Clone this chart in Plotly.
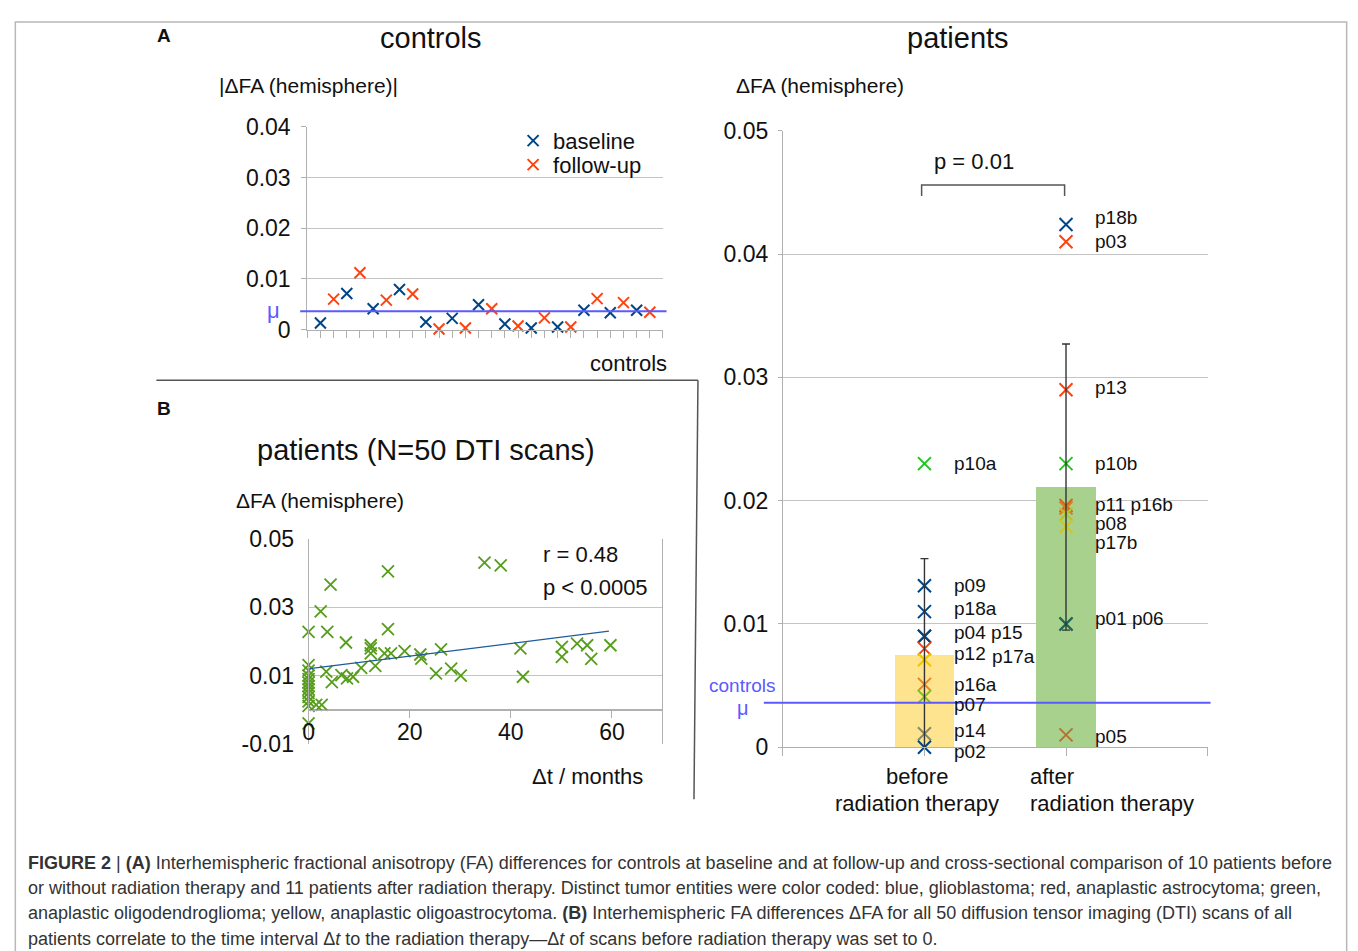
import plotly.graph_objects as go

# Figure size and the measured placement of the figure inside the photographed page
PW, PH = 1340, 953
OX, OY = 12.5, 20.5
SX, SY = 0.9963, 0.9704
FONT = "Liberation Sans"

def px(x):
    return (x - OX) / (PW * SX)

def py(y):
    return 1 - (y - OY) / (PH * SY)

# ---------------- data: controls ----------------
ctrl_baseline_pos = [1, 3, 5, 7, 9, 11, 13, 15, 17, 19, 21, 23, 25]
ctrl_baseline_val = [0.0013, 0.0071, 0.0041, 0.0079, 0.0015, 0.0022, 0.0049,
                     0.0011, 0.0003, 0.0005, 0.0038, 0.0033, 0.0038]
ctrl_followup_pos = [2, 4, 6, 8, 10, 12, 14, 16, 18, 20, 22, 24, 26]
ctrl_followup_val = [0.0060, 0.0112, 0.0058, 0.0070, 0.0001, 0.0003, 0.0041,
                     0.0007, 0.0023, 0.0005, 0.0061, 0.0053, 0.0034]
controls_mu = 0.0036

# ---------------- data: patients ----------------
group_pos = [1, 2]
group_mean = [0.0075, 0.0211]
group_err = [0.0078, 0.0116]
group_bar_colors = ["#ffe48f", "#a9d18e"]

pat_names = ["p09", "p18a", "p04", "p15", "p12", "p17a", "p16a", "p07", "p14", "p02", "p10a",
             "p18b", "p03", "p13", "p10b", "p11", "p16b", "p08", "p17b", "p01", "p06", "p05"]
pat_group = [1, 1, 1, 1, 1, 1, 1, 1, 1, 1, 1,
             2, 2, 2, 2, 2, 2, 2, 2, 2, 2, 2]
pat_val = [0.0131, 0.0110, 0.0090, 0.0090, 0.0080, 0.0071, 0.0051, 0.0041, 0.0011, 0.0000, 0.0230,
           0.0424, 0.0410, 0.0290, 0.0230, 0.0196, 0.0194, 0.0189, 0.0179, 0.0100, 0.0100, 0.0010]
pat_color = ["#004586", "#004586", "#004586", "#004586", "#ff420e", "#f2c500", "#f07f1f",
             "#7fc81a", "#8a8a62", "#004586", "#22c422",
             "#004586", "#ff420e", "#ff420e", "#22c422", "#d0661e", "#e07a1a", "#b5c22a",
             "#d6c41a", "#1f6a55", "#1f6a55", "#b8722e"]

label_text = ["p09", "p18a", "p04 p15", "p12", "p17a", "p16a", "p07", "p14", "p02", "p10a",
              "p18b", "p03", "p13", "p10b", "p11 p16b", "p08", "p17b", "p01 p06", "p05"]
label_group = [1, 1, 1, 1, 1, 1, 1, 1, 1, 1,
               2, 2, 2, 2, 2, 2, 2, 2, 2]
label_y = [0.01309, 0.01122, 0.00927, 0.00764, 0.00732, 0.00512, 0.0035, 0.00135, 0.0, 0.0230,
           0.04293, 0.04098, 0.02919, 0.0230, 0.01965, 0.01813, 0.01659, 0.01041, 0.00089]
label_dy = [0, 0, 0, 0, 0, 0, 0, 0, -4, 0,
            0, 0, 0, 0, 0, 0, 0, 0, 0]
label_shift = [28, 28, 28, 28, 66, 28, 28, 28, 28, 28,
               27, 27, 27, 27, 27, 27, 27, 27, 27]

p_bracket_height = 0.0456
p_bracket_drop = 0.0009

# ---------------- data: patients scatter (B) ----------------
dt_months = [0, 0, 0, 0, 0, 0, 0, 0, 0, 0, 0, 0, 0, 1.5, 2.6,
             2.4, 4.35, 3.7, 3.5, 4.6, 6.5, 7.4, 7.6, 8.8, 10.4, 12.3, 12.3, 12.3, 13.2,
             15.0, 15.7, 15.7, 16.3, 19.0, 22.1, 22.3, 25.2, 26.2, 28.2, 30.1, 34.8, 38.0,
             41.9, 42.4, 50.1, 50.1, 53.1, 55.1, 55.9, 59.7]
dfa_scan = [0.0228, 0.0131, 0.0115, 0.0100, 0.0090, 0.0080, 0.0070, 0.0060, 0.0050,
            0.0038, 0.0025, 0.0012, -0.0039, 0.0015, 0.0015,
            0.0288, 0.0366, 0.0228, 0.0112, 0.0081, 0.0102, 0.0197, 0.0092, 0.0097, 0.0123,
            0.0189, 0.0180, 0.0165, 0.0129, 0.0165, 0.0405, 0.0236, 0.0165, 0.0172, 0.0162,
            0.0150, 0.0107, 0.0177, 0.0121, 0.0100, 0.0430, 0.0422, 0.0180, 0.0097, 0.0184,
            0.0155, 0.0194, 0.0189, 0.0149, 0.0189]
trend_x = [0.2, 59.4]
trend_y = [0.0121, 0.0230]

GRID = "#c4c4c4"
AXL = "#b0b0b0"

fig = go.Figure()

# controls
fig.add_trace(go.Scatter(x=ctrl_baseline_pos, y=ctrl_baseline_val, mode="markers", name="baseline",
                         marker=dict(symbol="x-thin", size=11, line=dict(width=2, color="#004586")),
                         xaxis="x", yaxis="y", legend="legend", cliponaxis=False))
fig.add_trace(go.Scatter(x=ctrl_followup_pos, y=ctrl_followup_val, mode="markers", name="follow-up",
                         marker=dict(symbol="x-thin", size=11, line=dict(width=2, color="#ff420e")),
                         xaxis="x", yaxis="y", legend="legend2", cliponaxis=False))

# patients bars
fig.add_trace(go.Bar(x=group_pos, y=group_mean, width=0.42, marker=dict(color=group_bar_colors, line=dict(width=0)),
                     xaxis="x2", yaxis="y2", showlegend=False))
fig.add_trace(go.Scatter(x=pat_group, y=pat_val, mode="markers",
                         marker=dict(symbol="x-thin", size=13, line=dict(width=2, color=pat_color)),
                         xaxis="x2", yaxis="y2", showlegend=False, cliponaxis=False))
fig.add_trace(go.Scatter(x=group_pos, y=group_mean, mode="markers",
                         marker=dict(size=1, opacity=0),
                         error_y=dict(type="data", array=group_err, visible=True, color="#333333",
                                      thickness=1.4, width=4),
                         xaxis="x2", yaxis="y2", showlegend=False))

# scatter B
fig.add_trace(go.Scatter(x=dt_months, y=dfa_scan, mode="markers",
                         marker=dict(symbol="x-thin", size=12, line=dict(width=1.8, color="#579d1c")),
                         xaxis="x3", yaxis="y3", showlegend=False, cliponaxis=False))
fig.add_trace(go.Scatter(x=trend_x, y=trend_y, mode="lines", line=dict(color="#1f5a9e", width=1.3),
                         xaxis="x3", yaxis="y3", showlegend=False))

tickfont = dict(family=FONT, size=23, color="#111111")
legfont = dict(family=FONT, size=22, color="#111111")

fig.update_layout(
    width=PW, height=PH, margin=dict(l=0, r=0, t=0, b=0, pad=0),
    paper_bgcolor="white", plot_bgcolor="white",
    font=dict(family=FONT, color="#111111"),
    bargap=0,
    xaxis=dict(domain=[px(306), px(662)], range=[0, 27], tickmode="linear", tick0=0, dtick=1,
               ticks="outside", ticklen=7, tickcolor=AXL, showticklabels=False,
               showline=True, linecolor=AXL, showgrid=False, zeroline=False),
    yaxis=dict(domain=[py(328.3), py(126)], range=[0, 0.04], tickvals=[0, 0.01, 0.02, 0.03, 0.04],
               ticktext=["0", "0.01", "0.02", "0.03", "0.04"], tickfont=tickfont,
               ticks="outside", ticklen=5, tickcolor=AXL, ticklabelstandoff=6,
               showline=True, linecolor=AXL, showgrid=True, gridcolor=GRID, zeroline=False),
    xaxis2=dict(domain=[px(782), px(1207)], range=[0, 3], tickvals=[0, 1, 2, 3], anchor="y2",
                ticks="outside", ticklen=8, tickcolor=AXL, showticklabels=False,
                showline=True, linecolor=AXL, showgrid=False, zeroline=False),
    yaxis2=dict(domain=[py(745), py(130)], range=[0, 0.05], anchor="x2",
                tickvals=[0, 0.01, 0.02, 0.03, 0.04, 0.05],
                ticktext=["0", "0.01", "0.02", "0.03", "0.04", "0.05"], tickfont=tickfont,
                ticks="outside", ticklen=4, tickcolor=AXL, ticklabelstandoff=5,
                showline=True, linecolor=AXL, showgrid=True, gridcolor=GRID, zeroline=False),
    xaxis3=dict(domain=[px(307.3), px(661.5)], range=[0, 70], tickvals=[0, 20, 40, 60],
                ticktext=["0", "20", "40", "60"], tickfont=tickfont, anchor="free", position=py(708.3),
                ticks="outside", ticklen=7, tickcolor=AXL, ticklabelstandoff=-6,
                showline=True, linecolor=AXL, showgrid=False, zeroline=False),
    yaxis3=dict(domain=[py(742), py(537)], range=[-0.01, 0.05], anchor="x3",
                tickvals=[-0.01, 0.01, 0.03, 0.05], ticktext=["-0.01", "0.01", "0.03", "0.05"],
                tickfont=tickfont, ticks="", ticklabelstandoff=9,
                showline=True, mirror=True, linecolor=AXL, showgrid=True, gridcolor=GRID,
                zeroline=True, zerolinecolor=AXL, zerolinewidth=1),
    legend=dict(x=px(512), y=py(140), xanchor="left", yanchor="middle", bgcolor="rgba(0,0,0,0)",
                font=legfont, itemwidth=30),
    legend2=dict(x=px(512), y=py(164), xanchor="left", yanchor="middle", bgcolor="rgba(0,0,0,0)",
                 font=legfont, itemwidth=30),
)

ann = []

def text(x, y, s, size, xanchor="center", color="#111111", bold=False):
    ann.append(dict(x=px(x), y=py(y), xref="paper", yref="paper", text=(f"<b>{s}</b>" if bold else s),
                    showarrow=False, xanchor=xanchor, yanchor="middle",
                    font=dict(family=FONT, size=size, color=color)))

text(163, 35, "A", 19, bold=True)
text(163, 407, "B", 19, bold=True)
text(430, 37, "controls", 29)
text(957, 37, "patients", 29)
text(216, 85, "|ΔFA (hemisphere)|", 21, xanchor="left")
text(733, 85, "ΔFA (hemisphere)", 21, xanchor="left")
text(272, 309, "μ", 22, color="#5a5aff")
text(668, 362, "controls", 22, xanchor="right")
text(742, 683, "controls", 19, color="#5a5aff")
text(742, 706, "μ", 20, color="#5a5aff")
text(973, 161, "p = 0.01", 22)
text(916, 774, "before", 22)
text(916, 801, "radiation therapy", 22)
text(1027, 774, "after", 22, xanchor="left")
text(1027, 801, "radiation therapy", 22, xanchor="left")
text(425, 448, "patients (N=50 DTI scans)", 29)
text(233, 499, "ΔFA (hemisphere)", 21, xanchor="left")
text(540, 553, "r = 0.48", 22, xanchor="left")
text(540, 586, "p < 0.0005", 22, xanchor="left")
text(644, 774, "Δt / months", 22, xanchor="right")

for t, g, yv, dy, sh in zip(label_text, label_group, label_y, label_dy, label_shift):
    ann.append(dict(x=g, y=yv, xref="x2", yref="y2", text=t, showarrow=False, xanchor="left",
                    yanchor="middle", xshift=sh, yshift=dy, font=dict(family=FONT, size=19, color="#111111")))

caption = [
    "<b>FIGURE 2</b> | <b>(A)</b> Interhemispheric fractional anisotropy (FA) differences for controls at baseline and at follow-up and cross-sectional comparison of 10 patients before",
    "or without radiation therapy and 11 patients after radiation therapy. Distinct tumor entities were color coded: blue, glioblastoma; red, anaplastic astrocytoma; green,",
    "anaplastic oligodendroglioma; yellow, anaplastic oligoastrocytoma. <b>(B)</b> Interhemispheric FA differences ΔFA for all 50 diffusion tensor imaging (DTI) scans of all",
    "patients correlate to the time interval Δ<i>t</i> to the radiation therapy—Δ<i>t</i> of scans before radiation therapy was set to 0.",
]
for i, line in enumerate(caption):
    ann.append(dict(x=px(25), y=py(860 + 25.3 * i), xref="paper", yref="paper", text=line,
                    showarrow=False, xanchor="left", yanchor="middle",
                    font=dict(family=FONT, size=18.0, color="#333333")))

fig.update_layout(annotations=ann)

shapes = [
    dict(type="rect", xref="paper", yref="paper", x0=0.001, x1=min(px(1354), 0.999), y0=-0.05, y1=0.999,
         line=dict(color="#b8b8b8", width=1.5)),
    dict(type="line", xref="paper", yref="paper", x0=px(155), x1=px(697), y0=py(379), y1=py(379),
         line=dict(color="#555555", width=1.5)),
    dict(type="line", xref="paper", yref="paper", x0=px(697), x1=px(693), y0=py(379), y1=py(797),
         line=dict(color="#555555", width=1.5)),
    dict(type="line", xref="x domain", yref="y", x0=-0.02, x1=1.01, y0=controls_mu, y1=controls_mu,
         line=dict(color="#5a5aff", width=2)),
    dict(type="line", xref="x2 domain", yref="y2", x0=-0.045, x1=1.007, y0=controls_mu, y1=controls_mu,
         line=dict(color="#5a5aff", width=2)),
    dict(type="path", xref="x2", yref="y2",
         path=f"M {group_pos[0] - 0.02},{p_bracket_height - p_bracket_drop} L {group_pos[0] - 0.02},{p_bracket_height} "
              f"L {group_pos[1] - 0.01},{p_bracket_height} L {group_pos[1] - 0.01},{p_bracket_height - p_bracket_drop}",
         line=dict(color="#555555", width=1.5)),
]
fig.update_layout(shapes=shapes)

fig.write_html("out.html")
